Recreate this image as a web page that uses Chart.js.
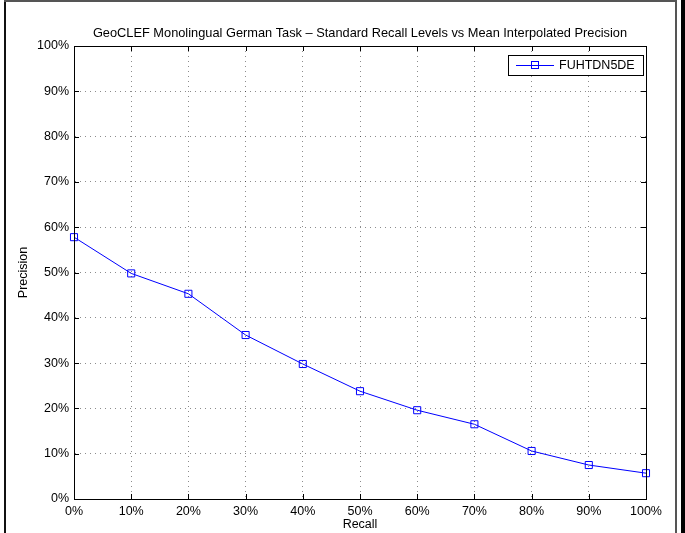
<!DOCTYPE html>
<html>
<head>
<meta charset="utf-8">
<script src="https://cdn.jsdelivr.net/npm/chart.js@4/dist/chart.umd.min.js"></script>
<style>
  html, body { margin: 0; padding: 0; background: #fff; }
  canvas { display: block; }
</style>
</head>
<body>
<canvas id="prChart" width="685" height="533"></canvas>
<script>
// standard recall levels (x) and mean interpolated precision (y, percent)
const recallLevels = ['0%', '10%', '20%', '30%', '40%', '50%', '60%', '70%', '80%', '90%', '100%'];
const precision = [57.8, 49.8, 45.3, 36.2, 29.8, 23.8, 19.6, 16.5, 10.6, 7.5, 5.7];
const runName = 'FUHTDN5DE';
const yTickValues = [0, 10, 20, 30, 40, 50, 60, 70, 80, 90, 100];

Chart.defaults.font.family = "'Liberation Sans', Arial, Helvetica, sans-serif";
Chart.defaults.color = '#000';

// matlab-ish figure: outer frame, boxed axes with inward ticks, boxed legend
const matlabLook = {
    id: 'matlabLook',
    beforeDraw(chart) {
        const c = chart.ctx;
        c.save();
        c.fillStyle = '#fff';
        c.fillRect(0, 0, chart.width, chart.height);
        c.fillStyle = '#111';
        c.fillRect(4, 0, 2, chart.height);
        c.fillStyle = '#555';
        c.fillRect(4, 0, 673, 2);
        c.fillRect(675, 0, 2, chart.height);
        c.fillStyle = '#000';
        c.fillRect(681, 0, 4, chart.height);
        c.restore();
    },
    afterDraw(chart) {
        const {ctx, chartArea: a, scales: {x, y}} = chart;
        ctx.save();
        ctx.strokeStyle = '#000';
        ctx.lineWidth = 1;
        ctx.beginPath();
        x.ticks.forEach((t, i) => {
            const px = Math.round(x.getPixelForTick(i)) + 0.5;
            ctx.moveTo(px, a.bottom); ctx.lineTo(px, a.bottom - 5);
            ctx.moveTo(px, a.top); ctx.lineTo(px, a.top + 5);
        });
        y.ticks.forEach((t) => {
            const py = Math.round(y.getPixelForValue(t.value)) + 0.5;
            ctx.moveTo(a.left, py); ctx.lineTo(a.left + 5, py);
            ctx.moveTo(a.right, py); ctx.lineTo(a.right - 5, py);
        });
        ctx.stroke();
        ctx.strokeRect(Math.round(a.left) + 0.5, Math.round(a.top) + 0.5,
            Math.round(a.right - a.left), Math.round(a.bottom - a.top));

        // legend
        const ds = chart.data.datasets[0];
        const w = 135, h = 20;
        const bx = Math.round(a.right) - 3 - w, by = Math.round(a.top) + 9;
        ctx.fillStyle = '#fff';
        ctx.fillRect(bx, by, w, h);
        ctx.strokeRect(bx + 0.5, by + 0.5, w, h);
        const ly = by + 10.5;
        ctx.strokeStyle = ds.borderColor;
        ctx.beginPath();
        ctx.moveTo(bx + 8, ly); ctx.lineTo(bx + 46, ly);
        ctx.stroke();
        ctx.strokeRect(bx + 23.5, ly - 4, 7, 7);
        ctx.fillStyle = '#000';
        ctx.font = "12.5px 'Liberation Sans', Arial, sans-serif";
        ctx.textBaseline = 'middle';
        ctx.textAlign = 'left';
        ctx.fillText(ds.label, bx + 51, ly);
        ctx.restore();
    }
};

new Chart(document.getElementById('prChart'), {
    type: 'line',
    data: {
        labels: recallLevels,
        datasets: [{
            label: runName,
            data: precision,
            borderColor: '#0000ff',
            borderWidth: 1,
            pointStyle: 'rect',
            pointRadius: 5,
            pointBorderWidth: 1,
            pointBorderColor: '#0000ff',
            pointBackgroundColor: 'rgba(0,0,0,0)',
            tension: 0,
            clip: false
        }]
    },
    options: {
        responsive: false,
        animation: false,
        layout: { padding: { left: 0, right: 39, top: 0, bottom: 0 } },
        plugins: {
            legend: { display: false },
            tooltip: { enabled: false },
            title: {
                display: true,
                fullSize: false,
                text: 'GeoCLEF Monolingual German Task \u2013 Standard Recall Levels vs Mean Interpolated Precision',
                font: { size: 12.8, weight: 'normal', lineHeight: 1 },
                padding: { top: 27.2, bottom: 6 },
                color: '#000'
            }
        },
        scales: {
            x: {
                grid: { color: 'rgba(0,0,0,0.45)', drawTicks: false },
                border: { color: '#000', dash: [1, 4] },
                ticks: { padding: 5, font: { size: 12.5 }, maxRotation: 0, autoSkip: false },
                title: { display: true, text: 'Recall', font: { size: 12.5 }, padding: { top: 0, bottom: 1 } },
                afterFit(scale) { scale.height = 34; }
            },
            y: {
                min: 0,
                max: 100,
                afterBuildTicks(scale) { scale.ticks = yTickValues.map(v => ({ value: v })); },
                grid: { color: 'rgba(0,0,0,0.45)', drawTicks: false },
                border: { color: '#000', dash: [1, 4] },
                ticks: { padding: 5, font: { size: 12.5 }, callback: v => v + '%' },
                title: { display: true, text: 'Precision', font: { size: 12.5 }, padding: { top: 16, bottom: 0 } },
                afterFit(scale) { scale.width = 74; }
            }
        }
    },
    plugins: [matlabLook]
});
</script>
</body>
</html>
